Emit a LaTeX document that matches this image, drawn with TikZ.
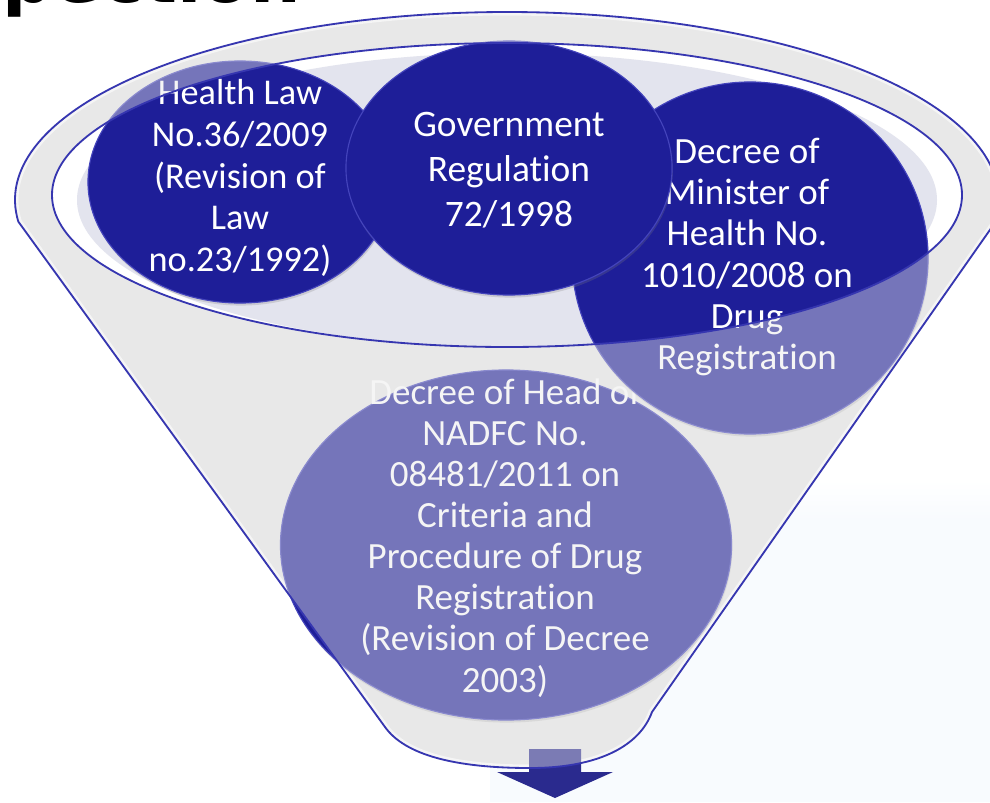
\documentclass[tikz,border=0pt]{standalone}
\usepackage{fontspec}
\setmainfont{Carlito}[Ligatures=NoCommon]
\newfontfamily\headfont{DejaVu Sans}
\usetikzlibrary{shapes.geometric, shadows}

\definecolor{funnelgrey}{HTML}{E8E8E8}
\definecolor{mouthgrey}{HTML}{E3E4EE}
\definecolor{lawblue}{HTML}{1E1E98}
\definecolor{discrim}{HTML}{4444BC}
\definecolor{edgeblue}{HTML}{3636B0}
\definecolor{arrowblue}{HTML}{2A2A8E}
\definecolor{paleblue}{HTML}{F8FBFE}

% outline of the funnel and of its open mouth
\newcommand{\funneloutline}{(18.3,221.6) arc[start angle=173.4, end angle=366.6, x radius=492, y radius=188]
  -- (652,712) .. controls (640,745) and (600,768) .. (530,768)
  .. controls (455,768) and (405,755) .. (385,727) -- cycle}
\newcommand{\mouth}{(507,195) ellipse [x radius=455, y radius=152]}

\begin{document}
\begin{tikzpicture}[x=0.025cm, y=-0.025cm,
  disc/.style={ellipse, fill=lawblue, draw=discrim, line width=0.8pt, inner sep=0pt,
    drop shadow={opacity=0.25, shadow xshift=0.6pt, shadow yshift=-1.8pt}},
  disctext/.style={text=white, align=center, inner sep=0pt, font=\fontsize{26.3}{29.2}\selectfont}]
  \useasboundingbox (0,0) rectangle (990,802);
  \fill[white] (0,0) rectangle (990,802);
  \shade[top color=white, bottom color=paleblue] (490,480) rectangle (990,520);
  \fill[paleblue] (490,520) rectangle (990,802);
  \node[anchor=base west, inner sep=0pt, font=\headfont\bfseries\fontsize{50.5}{60}\selectfont] (title) at (2,2.5) {pection};

  % funnel body
  \fill[funnelgrey] \funneloutline;
  \begin{scope}
    \clip \funneloutline;
    \draw[white, line width=5pt] \funneloutline;
  \end{scope}
  \fill[white] \mouth;
  \fill[mouthgrey] (507,200) ellipse [x radius=430, y radius=147];

  % the regulations, back to front
  \node[disc, minimum width=11.275cm, minimum height=8.75cm] (nadfc) at (506,545) {};
  \node[disctext] (nadfctext) at (505,538) {Decree of Head of\\NADFC No.\\08481/2011 on\\Criteria and\\Procedure of Drug\\Registration\\(Revision of Decree\\2003)};

  \node[disc, minimum width=7.6cm, minimum height=6.05cm] (healthlaw) at (240,182) {};
  \node[disctext, font=\fontsize{25.8}{29.7}\selectfont] (healthtext) at (240,178) {Health Law\\No.36/2009\\(Revision of\\Law\\no.23/1992)};

  \node[disc, minimum width=8.9cm, minimum height=8.8cm] (minister) at (750,258) {};
  \node[disctext] (ministertext) at (747,257) {Decree of\\Minister of\\Health No.\\1010/2008 on\\Drug\\Registration};

  \node[disc, minimum width=8.15cm, minimum height=6.35cm] (govreg) at (509,168) {};
  \node[disctext, font=\fontsize{26.6}{32}\selectfont] (govtext) at (509,170) {Government\\Regulation\\72/1998};

  % arrow out of the funnel
  \fill[arrowblue] (529,749) -- (581,749) -- (581,772) -- (613,772) -- (555,798) -- (497,772) -- (529,772) -- cycle;

  % front of the funnel over everything outside the mouth
  \fill[funnelgrey, opacity=0.43, even odd rule] \funneloutline \mouth;
  \draw[edgeblue, line width=1.3pt] \funneloutline;
  \draw[edgeblue, line width=1.3pt] \mouth;
\end{tikzpicture}
\end{document}
